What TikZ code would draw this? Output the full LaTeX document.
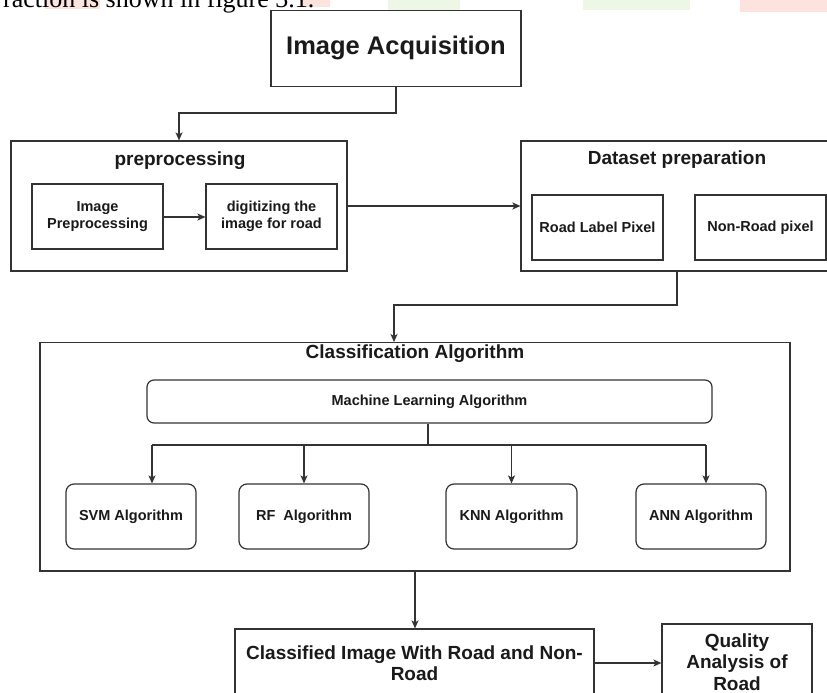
\documentclass[tikz,border=0pt]{standalone}
\usepackage{fontspec}
\setmainfont{Liberation Sans}
\newfontfamily\seriffont{Liberation Serif}
\usetikzlibrary{arrows.meta,calc}
\definecolor{ln}{HTML}{333333}
\definecolor{tx}{HTML}{1A1A1A}
\definecolor{wpink}{HTML}{FCE3DE}
\definecolor{wgreen}{HTML}{EEF6E6}
\begin{document}
\begin{tikzpicture}[x=1pt,y=-1pt,
  frame/.style={draw=ln,line width=1.2pt,fill=white,inner sep=0pt},
  box/.style={draw=ln,line width=1.2pt,fill=white,inner sep=2pt,text=tx,
    font=\bfseries\fontsize{14.5}{17}\selectfont,align=center},
  rbox/.style={box,rounded corners=8pt},
  title/.style={text=tx,font=\bfseries\fontsize{19}{22}\selectfont,inner sep=0pt},
  big/.style={box,font=\bfseries\fontsize{19}{21.5}\selectfont},
  conn/.style={draw=ln,line width=1.2pt},
  arr/.style={conn,-{Stealth[length=8pt,width=7pt,inset=2pt]}}
]
\useasboundingbox (0,0) rectangle (827,693);
\clip (0,0) rectangle (827,693);

% faint watermark patches and cut-off caption text
\fill[wpink] (45,0) rectangle (100,9);
\fill[wpink] (300,0) rectangle (330,7);
\fill[wgreen] (388,0) rectangle (460,14);
\fill[wgreen] (583,0) rectangle (690,10);
\fill[wpink] (740,0) rectangle (827,12);
\node[anchor=base west,inner sep=0pt,text=black,font=\seriffont\fontsize{26}{28}\selectfont] (cap) at (3,8) {raction is shown in figure 3.1.};

% Image acquisition
\node[box,minimum width=250pt,minimum height=75.5pt,font=\bfseries\fontsize{25.5}{28}\selectfont] (acq) at (396,48.4) {Image Acquisition};

% preprocessing
\node[frame,minimum width=336pt,minimum height=130pt] (pre) at (179,206) {};
\node[title] (pret) at (180,161) {preprocessing};
\node[box,minimum width=131pt,minimum height=65pt] (ip) at (97.5,216.5) {Image\\Preprocessing};
\node[box,minimum width=131pt,minimum height=65pt] (dg) at (271.5,216.5) {digitizing the\\image for road};

% dataset
\node[frame,minimum width=312pt,minimum height=130pt] (ds) at (677,206) {};
\node[title] (dst) at (677,160) {Dataset preparation};
\node[box,minimum width=131pt,minimum height=65pt] (rl) at (597.5,227.5) {Road Label Pixel};
\node[box,minimum width=131pt,minimum height=65pt] (nr) at (760.5,227.5) {Non-Road pixel};

% classification
\node[frame,minimum width=750pt,minimum height=228.3pt] (cls) at (415,456.8) {};
\node[title] (clst) at (415,354) {Classification Algorithm};
\node[box,rounded corners=7pt,minimum width=565pt,minimum height=43pt] (ml) at (429.5,401.5) {Machine Learning Algorithm};
\node[rbox,minimum width=130pt,minimum height=65pt] (svm) at (131,516.5) {SVM Algorithm};
\node[rbox,minimum width=130pt,minimum height=65pt] (rf) at (304,516.5) {RF\ \ Algorithm};
\node[rbox,minimum width=131pt,minimum height=65pt] (knn) at (511.5,516.5) {KNN Algorithm};
\node[rbox,minimum width=130pt,minimum height=65pt] (ann) at (701,516.5) {ANN Algorithm};

% results
\node[big,minimum width=359pt,minimum height=68pt] (cl) at (414.5,663) {Classified Image With Road and Non-\\Road};
\node[big,minimum width=150pt,minimum height=76pt] (qa) at (737,662) {Quality\\Analysis of\\Road};

% connectors
\coordinate (a1) at (0,113);
\draw[arr] (acq.south) -- (acq.south |- a1) -| (pre.north);
\draw[arr] (ip.east |- 0,217) -- (dg.west |- 0,217);
\draw[arr] (pre.east) -- (ds.west);
\coordinate (d1) at (394,305);
\draw[arr] (ds.south) |- (d1) -- (d1 |- cls.north);
\coordinate (h) at (0,445);
\coordinate (hl) at (152,445);
\coordinate (hr) at (706,445);
\draw[conn] (ml.south -| 428,0) -- (h -| 428,0);
\draw[conn] (hl) -- (hr);
\draw[arr] (hl) -- (hl |- svm.north);
\draw[arr] (rf.north |- h) -- (rf.north);
\draw[arr] (knn.north |- h) -- (knn.north);
\draw[arr] (hr) -- (hr |- ann.north);
\draw[arr] (cls.south) -- (cls.south |- cl.north);
\draw[arr] (cl.east |- 0,663) -- (qa.west |- 0,663);
\end{tikzpicture}
\end{document}
